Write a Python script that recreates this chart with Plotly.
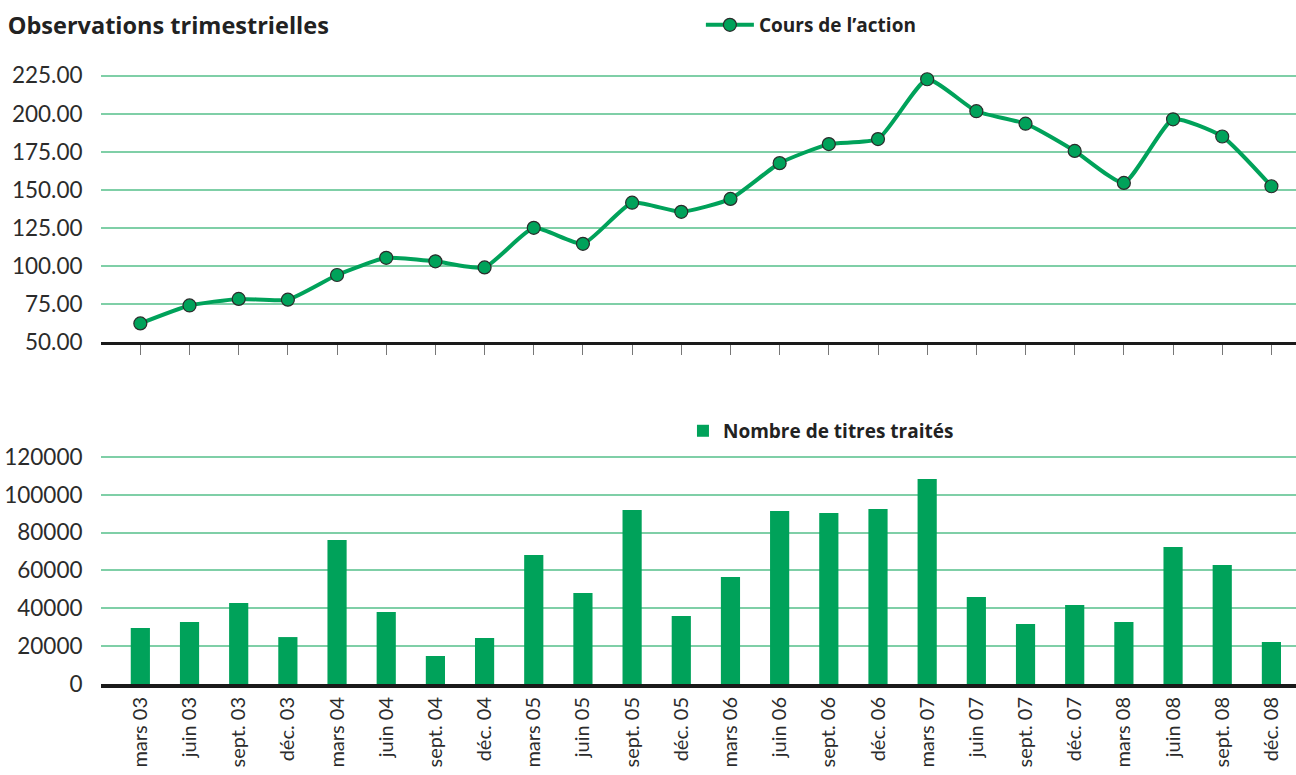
import plotly.graph_objects as go
from plotly.subplots import make_subplots

# quarterly observations
quarters = ['mars 03', 'juin 03', 'sept. 03', 'déc. 03',
            'mars 04', 'juin 04', 'sept. 04', 'déc. 04',
            'mars 05', 'juin 05', 'sept. 05', 'déc. 05',
            'mars 06', 'juin 06', 'sept. 06', 'déc. 06',
            'mars 07', 'juin 07', 'sept. 07', 'déc. 07',
            'mars 08', 'juin 08', 'sept. 08', 'déc. 08']

share_price = [62.2, 74.0, 78.3, 77.8, 94.0, 105.3, 103.0, 99.0,
               125.0, 114.5, 141.5, 135.5, 144.0, 167.5, 180.0, 183.3,
               222.6, 201.6, 193.4, 175.5, 154.5, 196.3, 185.0, 152.3]

volume = [29600, 32800, 42800, 24800, 76100, 38000, 14800, 24300,
          68200, 48100, 92000, 35900, 56600, 91400, 90400, 92500,
          108400, 46000, 31700, 41800, 32800, 72400, 62900, 22200]

price_ticks = [50, 75, 100, 125, 150, 175, 200, 225]
volume_ticks = [0, 20000, 40000, 60000, 80000, 100000, 120000]

GREEN = '#00a25a'
GRID = '#7fcfa7'
FONT = 'Lato'

fig = make_subplots(rows=2, cols=1, shared_xaxes=False, vertical_spacing=0.1)

fig.add_trace(go.Scatter(
    x=quarters, y=share_price, name='Cours de l’action',
    mode='lines+markers',
    line=dict(color=GREEN, width=4, shape='spline', smoothing=0.5),
    marker=dict(size=13, color=GREEN, line=dict(color='#2b2b2b', width=1.2)),
    showlegend=True, legend='legend'), row=1, col=1)

fig.add_trace(go.Bar(
    x=quarters, y=volume, name='Nombre de titres traités',
    marker=dict(color=GREEN, line=dict(width=0)), width=0.39,
    showlegend=True, legend='legend2'), row=2, col=1)

axis_font = dict(family=FONT, size=22.5, color='#2b2b2b')

fig.update_xaxes(row=1, col=1, domain=[0, 1], range=[-0.8, 23.5],
                 showticklabels=False, showgrid=False,
                 showline=True, linecolor='#1a1a1a', linewidth=3,
                 ticks='outside', ticklen=10, tickcolor='#777', tickwidth=1)
fig.update_xaxes(row=2, col=1, domain=[0, 1], range=[-0.8, 23.5],
                 showgrid=False, showline=True, linecolor='#1a1a1a', linewidth=4,
                 tickangle=-90, tickfont=dict(family=FONT, size=20, color='#2b2b2b'),
                 automargin=False,
                 ticks='outside', ticklen=1, tickcolor='rgba(0,0,0,0)')

fig.update_yaxes(row=1, col=1, domain=[0.5, 0.9006], range=[50, 230],
                 tickvals=price_ticks, tickformat='.2f',
                 showgrid=True, gridcolor=GRID, gridwidth=1.5, zeroline=False,
                 tickfont=axis_font, automargin=False,
                 ticks='outside', ticklen=13, tickcolor='rgba(0,0,0,0)')
fig.update_yaxes(row=2, col=1, domain=[0, 0.3458], range=[0, 125000],
                 tickvals=volume_ticks, tickformat='d',
                 showgrid=True, gridcolor=GRID, gridwidth=1.5, zeroline=False,
                 tickfont=axis_font, automargin=False,
                 ticks='outside', ticklen=13, tickcolor='rgba(0,0,0,0)')

legend_font = dict(family='Open Sans', size=19, color='#222', weight='bold')
fig.update_layout(
    width=1296, height=775,
    margin=dict(l=101, r=0, t=0, b=91),
    paper_bgcolor='white', plot_bgcolor='white',
    font=dict(family=FONT),
    showlegend=True,
    title=dict(text='Observations trimestrielles',
               font=dict(family='Open Sans', size=23.5, color='#222', weight='bold'),
               xref='container', yref='container', x=0.006, y=0.967,
               xanchor='left', yanchor='middle'),
    legend=dict(x=0.502, y=0.9635, xref='paper', yref='paper',
                xanchor='left', yanchor='middle', orientation='h', visible=True,
                font=legend_font, bgcolor='rgba(0,0,0,0)', itemwidth=48),
    legend2=dict(x=0.487, y=0.37, xref='paper', yref='paper',
                 xanchor='left', yanchor='middle', orientation='h', visible=True,
                 font=legend_font, bgcolor='rgba(0,0,0,0)'),
    bargap=0.6,
)

fig.write_html('out.html', config={'displayModeBar': False},
               post_script="document.body.style.margin='0';")
